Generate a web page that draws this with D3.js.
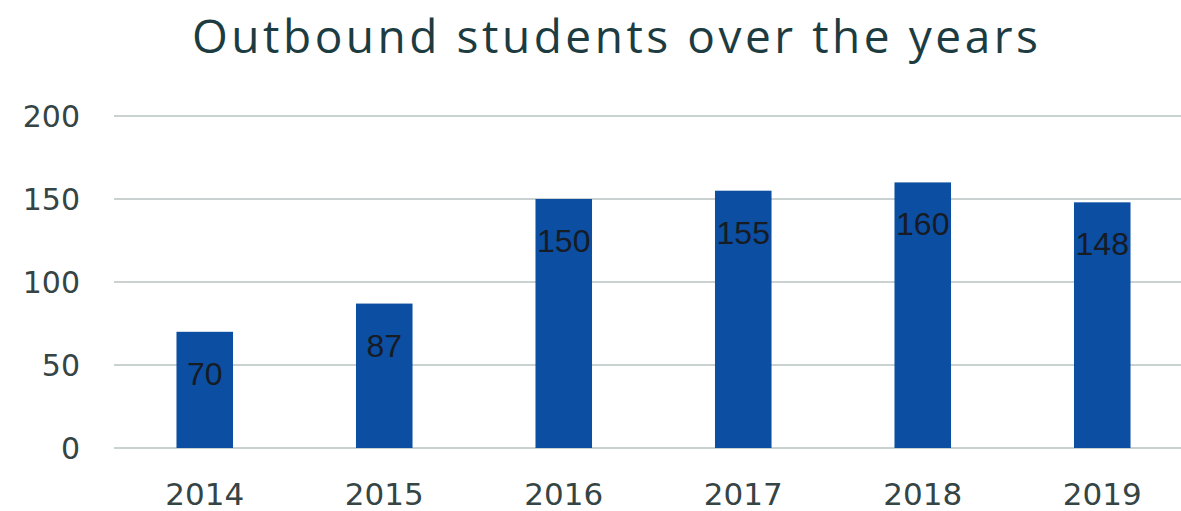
<!DOCTYPE html>
<html><head><meta charset="utf-8">
<script src="https://cdn.jsdelivr.net/npm/d3@7"></script>
<style>html,body{margin:0;padding:0;background:#fff;overflow:hidden}</style>
</head><body>
<script>
const title = "Outbound students over the years";
const years = ["2014","2015","2016","2017","2018","2019"];
const students = [70, 87, 150, 155, 160, 148];
const yTicks = [0, 50, 100, 150, 200];

const W = 1181, H = 511;
const svg = d3.select("body").append("svg").attr("width", W).attr("height", H);

const x = d3.scaleBand().domain(years).range([115, 1192]).paddingInner(0.685).paddingOuter(0.3425);
const y = d3.scaleLinear().domain([0, 200]).range([448, 116]);

// gridlines
svg.append("g").selectAll("line").data(yTicks).join("line")
  .attr("x1", 114).attr("x2", W)
  .attr("y1", d => y(d)).attr("y2", d => y(d))
  .attr("stroke", "#c9d1d1").attr("stroke-width", 2);

// y axis labels
const yAxis = svg.append("g").attr("transform", "translate(80,0)")
  .call(d3.axisLeft(y).tickValues(yTicks).tickSize(0).tickPadding(0));
yAxis.select(".domain").remove();
yAxis.selectAll("text").attr("font-family", "DejaVu Sans").attr("font-size", 30)
  .attr("fill", "#354444").attr("dy", "0.36em");

// x axis labels
const xAxis = svg.append("g").attr("transform", "translate(0,448)")
  .call(d3.axisBottom(x).tickSize(0).tickPadding(0));
xAxis.select(".domain").remove();
xAxis.selectAll("text").attr("font-family", "DejaVu Sans").attr("font-size", 31)
  .attr("fill", "#354444").attr("y", 57).attr("dy", 0);

// bars
const data = years.map((yr, i) => ({yr, v: students[i]}));
svg.append("g").selectAll("rect").data(data).join("rect")
  .attr("x", d => x(d.yr)).attr("width", x.bandwidth())
  .attr("y", d => y(d.v)).attr("height", d => y(0) - y(d.v))
  .attr("fill", "#0b4ea2");

// value labels
svg.append("g").selectAll("text").data(data).join("text")
  .attr("x", d => x(d.yr) + x.bandwidth() / 2)
  .attr("y", d => y(d.v) + 53)
  .attr("text-anchor", "middle")
  .attr("font-family", "Liberation Sans").attr("font-size", 32)
  .attr("fill", "#161b24")
  .text(d => d.v);

// title
const t = svg.append("text").attr("x", 615).attr("y", 53).attr("text-anchor", "middle")
  .attr("font-family", "Open Sans").attr("font-size", 46).attr("fill", "#1d3c41").text(title);
const len = t.node().getComputedTextLength();
const ls = (846 - len) / (title.length - 1);
t.attr("letter-spacing", ls).attr("x", 615 + ls / 2);
</script>
</body></html>
